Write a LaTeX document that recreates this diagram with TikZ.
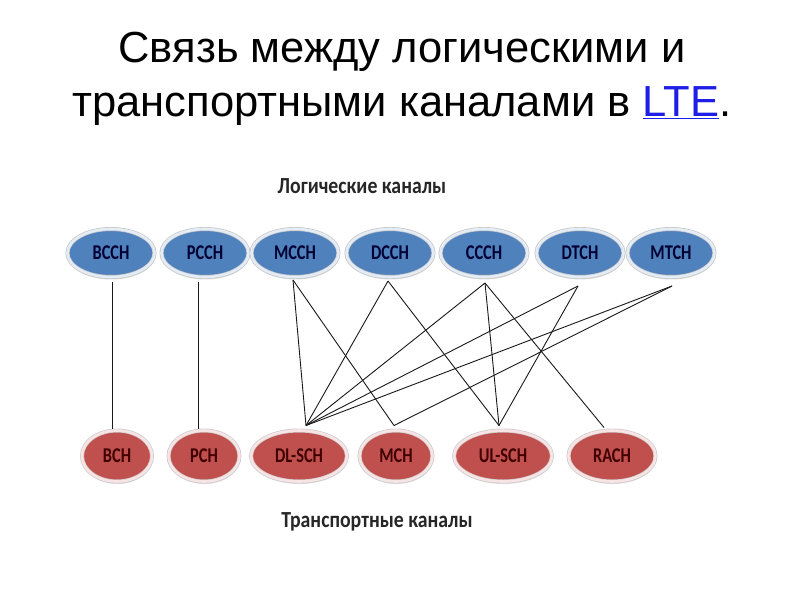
\documentclass[tikz,border=0pt]{standalone}
\usepackage{fontspec}
\setmainfont{Liberation Sans}
\newfontfamily\calfont{Carlito}
\usetikzlibrary{shapes.geometric,shadows}
\definecolor{logblue}{RGB}{79,129,189}
\definecolor{trred}{RGB}{192,80,77}
\definecolor{ringb}{RGB}{228,236,246}
\definecolor{ringr}{RGB}{248,228,228}
\definecolor{linkblue}{RGB}{30,30,230}
\tikzset{
  chan/.style={ellipse, inner sep=0pt, line width=4pt,
    drop shadow={opacity=0.25, shadow xshift=0.5pt, shadow yshift=-2.5pt},
    font=\calfont\bfseries\fontsize{21}{21}\selectfont},
  logch/.style={chan, fill=logblue, draw=gray!45,
    postaction={draw=ringb, line width=2.6pt},
    minimum width=87pt, minimum height=48pt, text=black!80!blue},
  trch/.style={chan, fill=trred, draw=gray!40,
    postaction={draw=ringr, line width=2.6pt},
    minimum height=51pt, text=black!75!red},
  link/.style={line width=0.9pt, black!90},
  caption/.style={font=\calfont\bfseries\fontsize{23}{23}\selectfont, text=black!85}
}
\newcommand{\nlab}[1]{\scalebox{0.78}[1]{#1}}
\begin{document}
\begin{tikzpicture}[x=1pt,y=-1pt]
\useasboundingbox (0,0) rectangle (800,600);
\fill[white] (0,0) rectangle (800,600);
% title
\node[font=\fontsize{43.5}{54}\selectfont, align=center] (title) at (402,79)
  {Связь между логическими и\\транспортными каналами в \textcolor{linkblue}{\underline{LTE}}.};
\node[caption] (lcap) at (362,186) {\scalebox{0.86}[1]{Логические каналы}};
\node[caption] (tcap) at (377,522) {\scalebox{0.86}[1]{Транспортные каналы}};
% logical channels
\node[logch] (bcch) at (111,253) {\nlab{BCCH}};
\node[logch] (pcch) at (205,253) {\nlab{PCCH}};
\node[logch] (mcch) at (295,253) {\nlab{MCCH}};
\node[logch] (dcch) at (390,253) {\nlab{DCCH}};
\node[logch] (ccch) at (484,253) {\nlab{CCCH}};
\node[logch] (dtch) at (580,253) {\nlab{DTCH}};
\node[logch] (mtch) at (671,253) {\nlab{MTCH}};
% transport channels
\node[trch, minimum width=70pt] (bch) at (117,456) {\nlab{BCH}};
\node[trch, minimum width=71pt] (pch) at (204,456) {\nlab{PCH}};
\node[trch, minimum width=96pt] (dlsch) at (299,456) {\nlab{DL-SCH}};
\node[trch, minimum width=73pt] (mch) at (396,456) {\nlab{MCH}};
\node[trch, minimum width=98pt] (ulsch) at (503,456) {\nlab{UL-SCH}};
\node[trch, minimum width=87pt] (rach) at (612,456) {\nlab{RACH}};
% connection points
\coordinate (bcch-b) at ([xshift=1pt,yshift=-3pt]bcch.south);
\coordinate (pcch-b) at ([xshift=-7pt,yshift=-3pt]pcch.south);
\coordinate (mcch-b) at ([xshift=-2pt,yshift=-1pt]mcch.south);
\coordinate (dcch-b) at ([xshift=-2pt,yshift=-2pt]dcch.south);
\coordinate (ccch-b) at ([xshift=1pt,yshift=-4pt]ccch.south);
\coordinate (dtch-b) at ([xshift=-2pt,yshift=-7pt]dtch.south);
\coordinate (mtch-b) at ([xshift=1pt,yshift=-7pt]mtch.south);
\coordinate (dlsch-t) at ([xshift=7pt,yshift=3pt]dlsch.north);
\coordinate (mch-t) at ([xshift=-2pt,yshift=3pt]mch.north);
\coordinate (ulsch-t) at ([xshift=-4pt,yshift=3pt]ulsch.north);
\coordinate (rach-t) at ([xshift=-8pt,yshift=1pt]rach.north);
% connectors
\draw[link] (bcch-b) -- (bcch-b |- bch.north);
\draw[link] (pcch-b) -- (pcch-b |- pch.north);
\draw[link] (mcch-b) -- (dlsch-t);
\draw[link] (mcch-b) -- (mch-t);
\draw[link] (dcch-b) -- (dlsch-t);
\draw[link] (dcch-b) -- (ulsch-t);
\draw[link] (ccch-b) -- (dlsch-t);
\draw[link] (ccch-b) -- (ulsch-t);
\draw[link] (ccch-b) -- (rach-t);
\draw[link] (dtch-b) -- (dlsch-t);
\draw[link] (dtch-b) -- (ulsch-t);
\draw[link] (mtch-b) -- (dlsch-t);
\draw[link] (mtch-b) -- (mch-t);
\end{tikzpicture}
\end{document}
